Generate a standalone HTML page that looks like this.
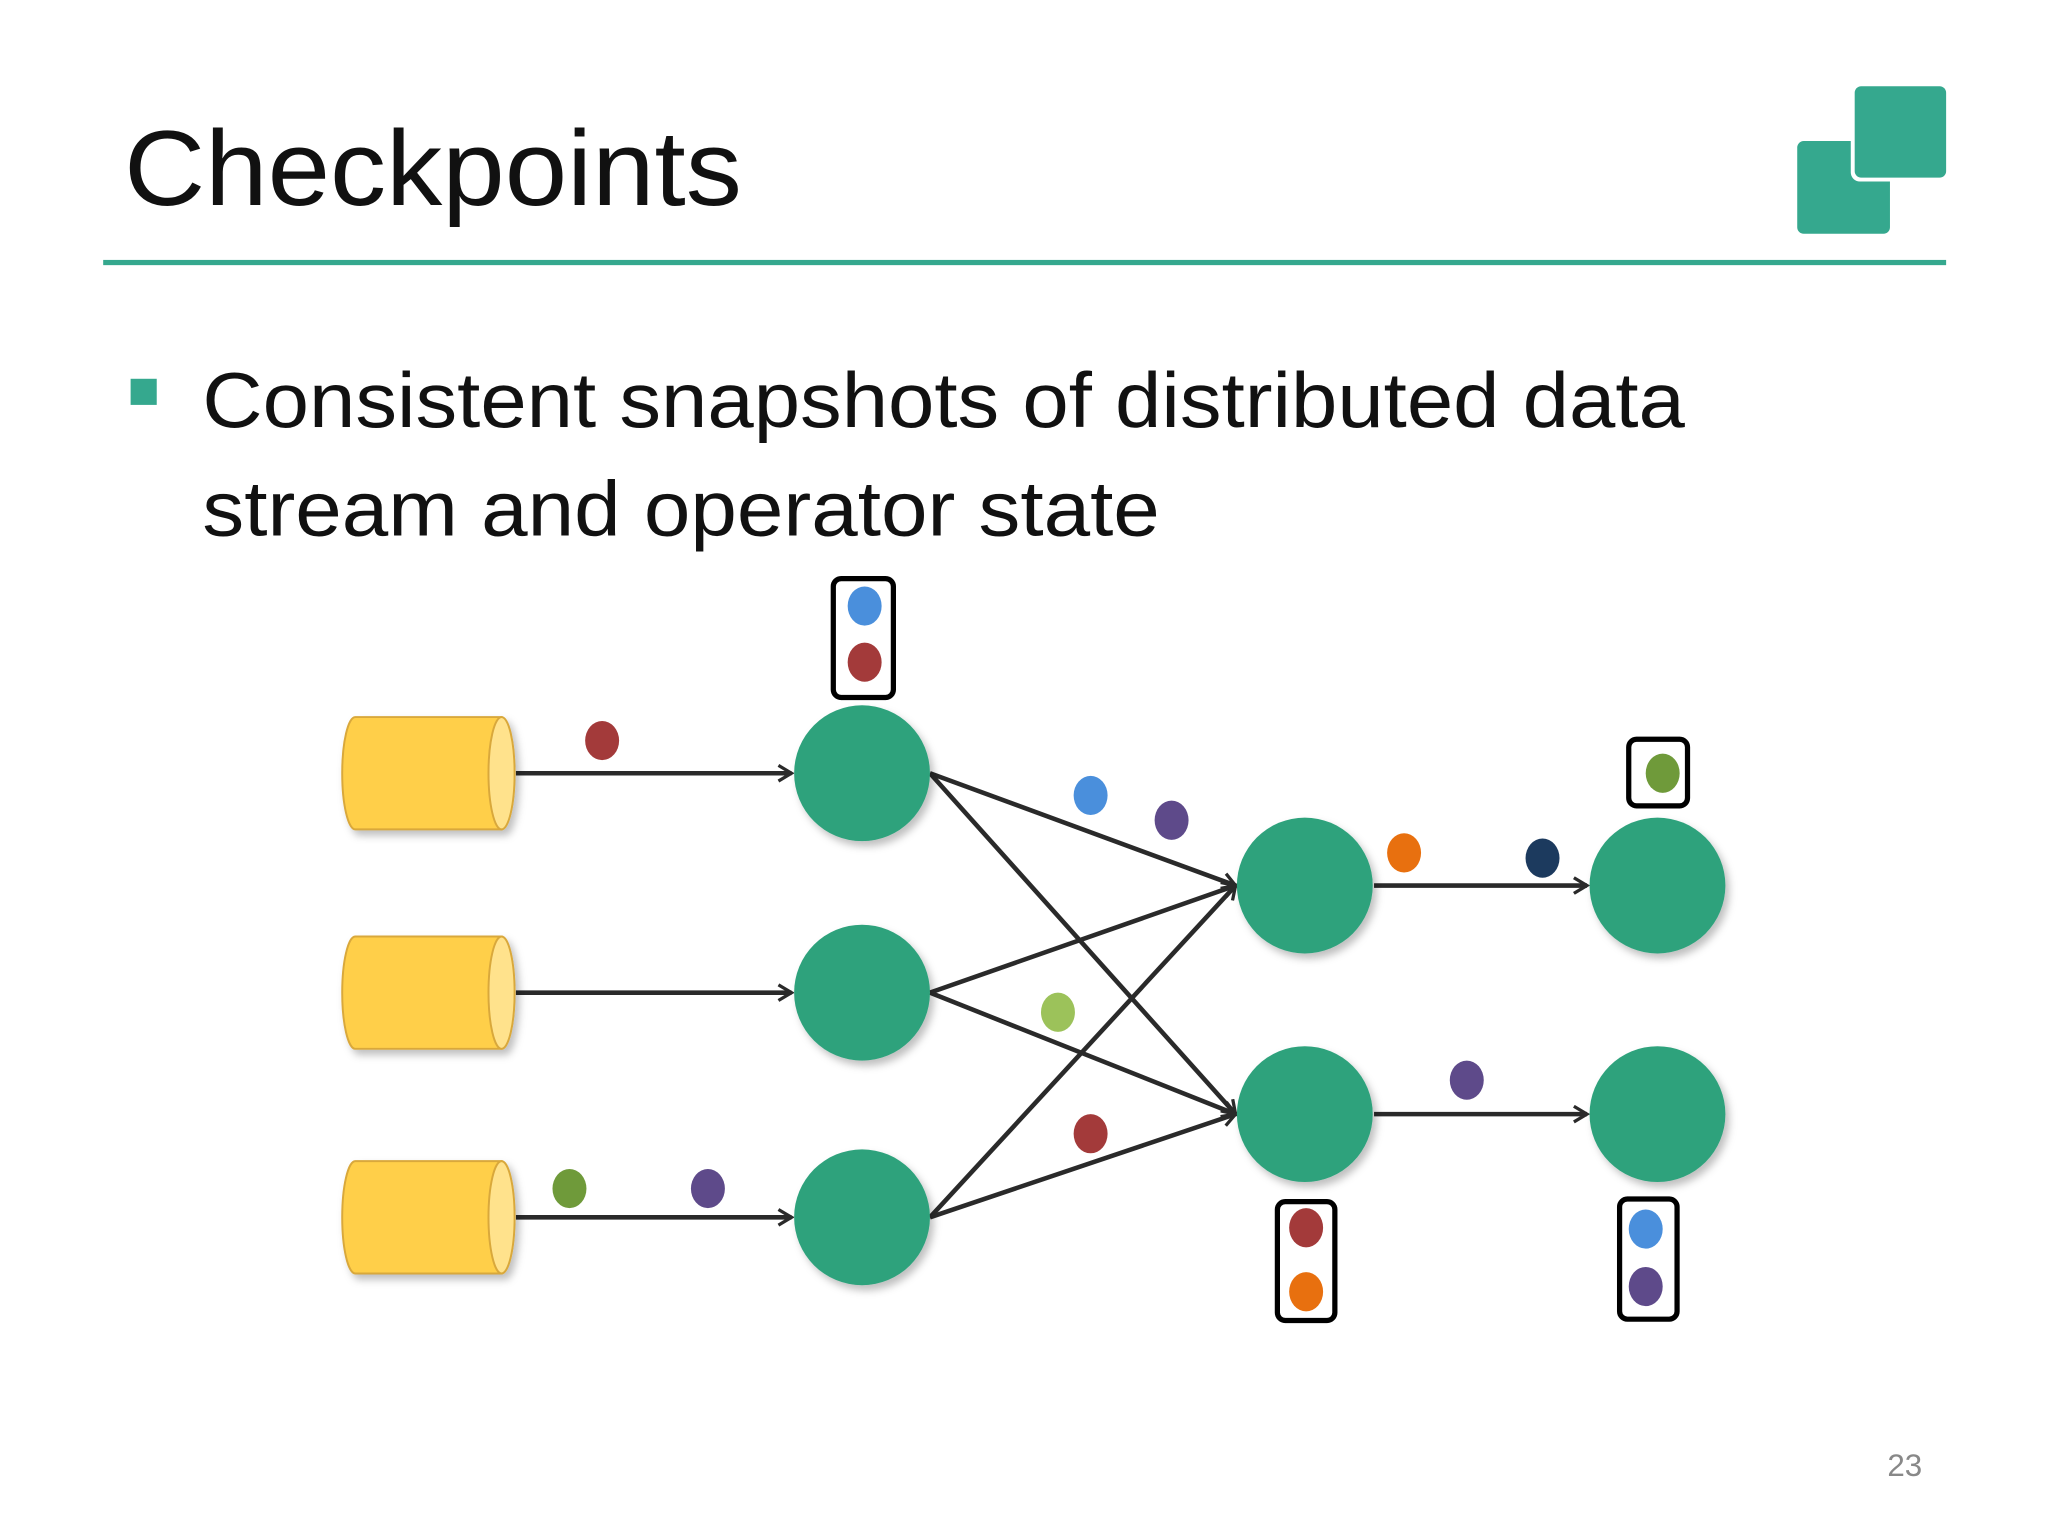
<!DOCTYPE html>
<html><head><meta charset="utf-8"><style>
html,body{margin:0;padding:0;background:#fff;}
svg{display:block;}
</style></head><body>
<svg width="2048" height="1536" viewBox="0 0 1568 1176" xmlns="http://www.w3.org/2000/svg">
<defs>
<marker id="ar" markerWidth="14" markerHeight="14" refX="12" refY="7" orient="auto" markerUnits="userSpaceOnUse">
<path d="M2,1 L12,7 L2,13" fill="none" stroke="#2a2a2a" stroke-width="2.5"/>
</marker>
<filter id="sh" x="-20%" y="-20%" width="150%" height="150%"><feDropShadow dx="3" dy="4" stdDeviation="3" flood-color="#000" flood-opacity="0.25"/></filter>
</defs>
<rect width="1568" height="1176" fill="#fff"/>
<text x="95" y="157" font-family="Liberation Sans, sans-serif" font-size="82" fill="#111" textLength="473" lengthAdjust="spacingAndGlyphs">Checkpoints</text>
<rect x="79" y="199" width="1411" height="4" fill="#35a88e"/>
<rect x="1376" y="108" width="71" height="71" rx="5" fill="#35a88e"/>
<rect x="1417" y="63" width="76" height="76" rx="7" fill="#fff"/>
<rect x="1420" y="66" width="70" height="70" rx="5" fill="#35a88e"/>
<rect x="100" y="290" width="20" height="20" fill="#35a88e"/>
<text x="155" y="327" font-family="Liberation Sans, sans-serif" font-size="60" fill="#111" textLength="1135" lengthAdjust="spacingAndGlyphs">Consistent snapshots of distributed data</text>
<text x="155" y="410" font-family="Liberation Sans, sans-serif" font-size="60" fill="#111" textLength="733" lengthAdjust="spacingAndGlyphs">stream and operator state</text>

<g stroke="#2a2a2a" stroke-width="3.5" fill="none" marker-end="url(#ar)">
<line x1="395" y1="592" x2="606" y2="592"/>
<line x1="395" y1="760" x2="606" y2="760"/>
<line x1="395" y1="932" x2="606" y2="932"/>
<line x1="712" y1="592" x2="946" y2="678"/>
<line x1="712" y1="592" x2="946" y2="853"/>
<line x1="712" y1="760" x2="946" y2="678"/>
<line x1="712" y1="760" x2="946" y2="853"/>
<line x1="712" y1="932" x2="946" y2="678"/>
<line x1="712" y1="932" x2="946" y2="853"/>
<line x1="1052" y1="678" x2="1215" y2="678"/>
<line x1="1052" y1="853" x2="1215" y2="853"/>
</g>

<g filter="url(#sh)">
<g fill="#ffcf4a" stroke="#d9a83a" stroke-width="1.5">
<path d="M272,549 H384 V635 H272 A10,43 0 0 1 272,549 Z"/>
<ellipse cx="384" cy="592" rx="10" ry="43" fill="#ffe28c"/>
<path d="M272,717 H384 V803 H272 A10,43 0 0 1 272,717 Z"/>
<ellipse cx="384" cy="760" rx="10" ry="43" fill="#ffe28c"/>
<path d="M272,889 H384 V975 H272 A10,43 0 0 1 272,889 Z"/>
<ellipse cx="384" cy="932" rx="10" ry="43" fill="#ffe28c"/>
</g>
<g fill="#2fa27c">
<circle cx="660" cy="592" r="52"/><circle cx="660" cy="760" r="52"/><circle cx="660" cy="932" r="52"/>
<circle cx="999" cy="678" r="52"/><circle cx="999" cy="853" r="52"/>
<circle cx="1269" cy="678" r="52"/><circle cx="1269" cy="853" r="52"/>
</g>
</g>

<g fill="none" stroke="#000" stroke-width="4">
<rect x="638" y="443" width="46" height="91" rx="6"/>
<rect x="1247" y="566" width="45" height="51" rx="6"/>
<rect x="978" y="920" width="44" height="91" rx="6"/>
<rect x="1240" y="918" width="44" height="92" rx="6"/>
</g>
<g>
<ellipse cx="662" cy="464" rx="13" ry="15" fill="#4a8fdc"/>
<ellipse cx="662" cy="507" rx="13" ry="15" fill="#a33a3a"/>
<ellipse cx="1273" cy="592" rx="13" ry="15" fill="#6f9a3a"/>
<ellipse cx="1000" cy="940" rx="13" ry="15" fill="#a33a3a"/>
<ellipse cx="1000" cy="989" rx="13" ry="15" fill="#e8700f"/>
<ellipse cx="1260" cy="941" rx="13" ry="15" fill="#4a8fdc"/>
<ellipse cx="1260" cy="985" rx="13" ry="15" fill="#5e4a8a"/>
<ellipse cx="461" cy="567" rx="13" ry="15" fill="#a33a3a"/>
<ellipse cx="835" cy="609" rx="13" ry="15" fill="#4a8fdc"/>
<ellipse cx="897" cy="628" rx="13" ry="15" fill="#5e4a8a"/>
<ellipse cx="1075" cy="653" rx="13" ry="15" fill="#e8700f"/>
<ellipse cx="1181" cy="657" rx="13" ry="15" fill="#1c3a5e"/>
<ellipse cx="810" cy="775" rx="13" ry="15" fill="#9cc25a"/>
<ellipse cx="835" cy="868" rx="13" ry="15" fill="#a33a3a"/>
<ellipse cx="436" cy="910" rx="13" ry="15" fill="#6f9a3a"/>
<ellipse cx="542" cy="910" rx="13" ry="15" fill="#5e4a8a"/>
<ellipse cx="1123" cy="827" rx="13" ry="15" fill="#5e4a8a"/>
</g>
<text x="1445" y="1130" font-family="Liberation Sans, sans-serif" font-size="24" fill="#888">23</text>
</svg>
</body></html>
